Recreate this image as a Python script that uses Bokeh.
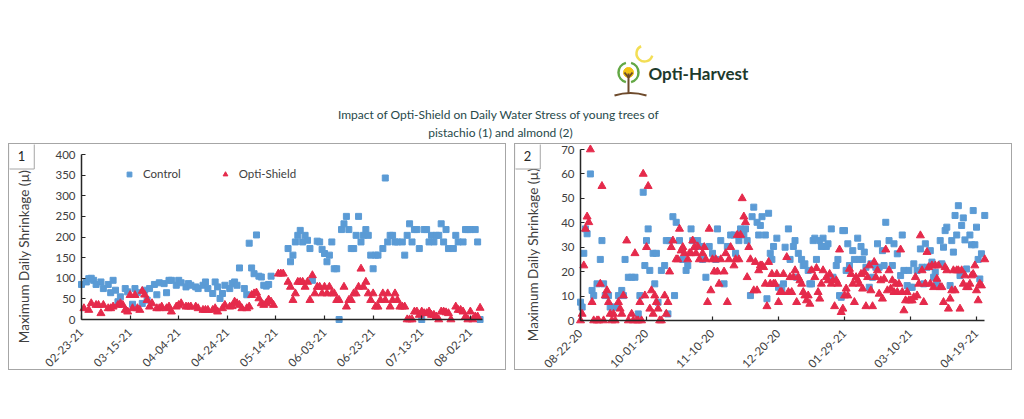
import numpy as np
from bokeh.plotting import figure
from bokeh.layouts import column, row
from bokeh.models import Range1d, FixedTicker, Legend, LegendItem, Label, LinearAxis
from bokeh.core.properties import value
from bokeh.embed import file_html
from bokeh.resources import INLINE

FONT = "Lato"
BLUE = "#5b9bd5"
RED = "#e52a4b"
AXIS = "#262626"
TXT = "#404040"

# ---------------- data: pistachio (1), days since 02-23-21 ----------------
pist_tick_days = [0, 20, 40, 60, 80, 100, 120, 140, 160]
pist_tick_labels = ["02-23-21", "03-15-21", "04-04-21", "04-24-21", "05-14-21",
                    "06-03-21", "06-23-21", "07-13-21", "08-02-21"]
pist_y_ticks = [0, 50, 100, 150, 200, 250, 300, 350, 400]

pist_ctrl_day = [0, 2, 3, 4, 5, 6, 8, 9, 11, 12, 13, 14, 15, 16, 18, 19, 21, 22, 23, 25,
                 26, 27, 28, 30, 31, 32, 34, 35, 36, 37, 39, 40, 41, 43, 44, 45, 47, 48, 50, 51,
                 52, 54, 55, 56, 57, 58, 59, 61, 62, 63, 64, 65, 67, 68, 69, 70, 71, 72, 73, 74,
                 75, 76, 77, 78, 85, 86, 87, 88, 89, 90, 91, 92, 93, 94, 95, 97, 98, 99, 100, 101,
                 102, 103, 104, 105, 106, 107, 108, 109, 110, 111, 112, 113, 114, 115, 116, 117, 118, 119, 120, 121,
                 122, 124, 125, 126, 127, 128, 129, 130, 132, 133, 134, 135, 136, 137, 138, 139, 140, 141, 142, 143,
                 144, 145, 146, 147, 148, 149, 150, 151, 153, 154, 155, 157, 158, 159, 160, 162, 163, 164]
pist_ctrl_val = [85, 91, 99, 100, 95, 85, 91, 75, 85, 65, 95, 71, 43, 55, 75, 67, 37, 75, 65, 39,
                 71, 47, 75, 85, 60, 89, 87, 65, 95, 95, 83, 95, 89, 79, 87, 83, 79, 75, 83, 91,
                 75, 63, 91, 79, 51, 63, 83, 75, 87, 91, 83, 125, 75, 60, 185, 125, 111, 205, 105, 103,
                 83, 81, 85, 105, 172, 140, 156, 188, 204, 216, 188, 204, 192, 172, 95, 190, 188, 170, 160, 140,
                 156, 188, 123, 123, 0, 218, 232, 250, 218, 172, 172, 204, 250, 188, 204, 218, 204, 156, 123, 156,
                 156, 172, 343, 188, 204, 204, 188, 188, 188, 156, 204, 232, 188, 218, 218, 172, 0, 218, 218, 188,
                 204, 188, 204, 204, 232, 188, 218, 172, 172, 204, 188, 188, 218, 218, 218, 218, 188, 0]

pist_shield_day = [1, 3, 4, 6, 7, 8, 9, 11, 12, 13, 15, 16, 17, 18, 19, 20, 21, 22, 23, 24,
                   25, 26, 27, 28, 29, 31, 32, 33, 35, 36, 37, 39, 40, 41, 43, 44, 45, 47, 48, 50,
                   51, 52, 54, 55, 56, 58, 59, 61, 62, 63, 64, 65, 66, 68, 69, 70, 71, 72, 73, 74,
                   75, 76, 77, 78, 79, 81, 82, 83, 85, 86, 87, 88, 89, 90, 91, 92, 93, 94, 95, 96,
                   97, 98, 99, 100, 101, 102, 103, 104, 105, 106, 108, 109, 110, 111, 112, 113, 114, 115, 116, 117,
                   118, 119, 120, 121, 122, 123, 124, 125, 126, 127, 128, 129, 130, 131, 132, 133, 134, 135, 136, 137,
                   138, 139, 140, 141, 142, 143, 144, 145, 146, 147, 148, 149, 150, 151, 152, 154, 155, 156, 157, 158,
                   159, 160, 161, 162, 163, 164]
pist_shield_val = [27, 23, 39, 35, 35, 15, 35, 27, 27, 31, 35, 39, 35, 23, 19, 59, 27, 59, 27, 23,
                   69, 60, 47, 31, 39, 27, 27, 31, 27, 31, 19, 31, 35, 39, 31, 31, 31, 31, 27, 23,
                   23, 23, 23, 27, 19, 27, 35, 31, 32, 43, 39, 35, 27, 27, 31, 59, 63, 65, 51, 39,
                   35, 39, 48, 43, 35, 111, 111, 111, 91, 79, 47, 63, 91, 91, 91, 79, 91, 47, 107, 63,
                   79, 79, 63, 79, 63, 79, 63, 63, 47, 47, 79, 31, 47, 47, 63, 63, 79, 123, 79, 91,
                   63, 47, 63, 31, 31, 47, 63, 47, 63, 31, 47, 63, 47, 31, 31, 31, 0, 0, 0, 19,
                   19, 11, 19, 15, 15, 19, 11, 11, 7, 0, 19, 19, 17, 15, 0, 31, 23, 23, 19, 7,
                   0, 19, 0, 7, 7, 28]

# ---------------- data: almond (2), days since 08-22-20 ----------------
alm_tick_days = [0, 40, 80, 120, 160, 200, 240]
alm_tick_labels = ["08-22-20", "10-01-20", "11-10-20", "12-20-20", "01-29-21", "03-10-21", "04-19-21"]
alm_y_ticks = [0, 10, 20, 30, 40, 50, 60, 70]

alm_ctrl_day = [0, 1, 2, 3, 4, 6, 7, 8, 10, 12, 13, 14, 15, 17, 18, 20, 22, 23, 25, 26,
                27, 29, 31, 33, 35, 36, 38, 39, 40, 41, 42, 44, 45, 46, 47, 49, 51, 52, 53, 54,
                56, 57, 58, 60, 62, 64, 65, 67, 68, 71, 73, 74, 76, 78, 80, 82, 83, 85, 87, 89,
                91, 93, 94, 96, 97, 99, 100, 101, 103, 104, 105, 107, 108, 109, 110, 112, 113, 114, 115, 116,
                117, 119, 120, 122, 123, 124, 126, 127, 129, 130, 131, 132, 134, 135, 136, 138, 139, 140, 141, 142,
                143, 145, 146, 147, 149, 150, 152, 153, 155, 156, 157, 158, 159, 160, 161, 162, 163, 165, 166, 168,
                169, 170, 171, 172, 173, 175, 176, 177, 179, 180, 181, 183, 184, 185, 187, 189, 190, 192, 194, 195,
                196, 198, 199, 200, 201, 202, 204, 206, 207, 208, 209, 210, 212, 213, 214, 215, 216, 218, 219, 220,
                221, 222, 224, 225, 226, 227, 228, 229, 230, 231, 232, 233, 234, 236, 237, 238, 239, 240, 241, 242,
                243, 245]
alm_ctrl_val = [7.5, 5.5, 27.5, 37.5, 35.5, 60, 12.3, 10.2, 15, 25, 32.7, 15, 10.2, 10.2, 5.5, 5.5, 5.5, 10.2, 12.3, 10.2,
                25, 17.7, 17.7, 17.7, 2.7, 10.2, 52.5, 22.5, 32.7, 37.5, 20.5, 27.5, 15, 27.5, 7.5, 20.5, 22.5, 32.7, 2.7, 32.7,
                42.5, 10.2, 40.2, 32.7, 25, 20.5, 22.5, 37.5, 32.7, 32.7, 30.3, 25, 17.7, 30.3, 27.5, 25, 37.5, 32.7, 15, 30.3,
                35, 35, 27.5, 32.7, 37.5, 35, 37.5, 32.7, 10.2, 42.5, 46.4, 40.2, 35, 38.9, 42.5, 35, 8.9, 43.9, 27.5, 25,
                30.3, 33.7, 13.6, 12.3, 15, 30, 37.5, 25, 30.3, 32.7, 17.7, 27.5, 25, 22.5, 23.2, 20.5, 15, 15, 32.7, 33.7,
                25, 32.7, 30.3, 33.7, 30.3, 31.4, 37.5, 17.7, 22.5, 25, 10.2, 9.5, 36.8, 36.8, 20.5, 31.4, 22.5, 28.6, 25, 33.7,
                25, 30.3, 25, 28, 21.8, 13.6, 23.2, 17.7, 21.8, 31.4, 21.8, 28.6, 22.5, 40.2, 32.7, 22.5, 31.4, 27.3, 18.4, 35,
                20.5, 14.3, 20.5, 13.6, 13.6, 23.2, 20.5, 29.3, 21.8, 15, 31.4, 21.8, 28.6, 23.9, 17.7, 19.8, 15, 32.7, 23.2, 30,
                36.8, 38.2, 14.3, 32.7, 28, 43, 35, 47, 18.4, 38.9, 42, 33, 21.1, 35, 31, 45, 31, 38.2, 25, 17,
                27.3, 43]

alm_shield_day = [0, 1, 2, 3, 4, 5, 6, 7, 8, 10, 11, 12, 13, 14, 15, 16, 17, 18, 19, 20,
                  21, 23, 24, 25, 26, 28, 29, 31, 32, 33, 34, 35, 36, 37, 38, 39, 40, 41, 42, 43,
                  44, 45, 46, 47, 48, 49, 51, 52, 53, 54, 55, 56, 58, 59, 60, 61, 62, 63, 65, 66,
                  67, 68, 69, 70, 71, 72, 74, 75, 76, 77, 78, 79, 80, 81, 82, 83, 84, 85, 87, 88,
                  89, 90, 91, 93, 94, 95, 96, 97, 98, 99, 100, 101, 102, 103, 105, 106, 107, 108, 109, 110,
                  111, 112, 113, 114, 115, 116, 117, 118, 119, 120, 121, 122, 123, 125, 126, 127, 128, 129, 130, 131,
                  132, 133, 134, 135, 136, 137, 138, 139, 140, 142, 143, 144, 145, 146, 147, 149, 150, 151, 152, 153,
                  154, 155, 156, 157, 158, 159, 160, 161, 162, 163, 164, 165, 166, 167, 168, 169, 170, 171, 172, 173,
                  174, 175, 176, 177, 178, 179, 180, 181, 182, 183, 184, 185, 186, 187, 188, 189, 190, 191, 192, 193,
                  194, 195, 196, 197, 198, 199, 200, 201, 202, 203, 204, 205, 206, 207, 208, 209, 210, 211, 212, 213,
                  214, 215, 216, 217, 218, 219, 220, 221, 222, 223, 224, 225, 226, 227, 228, 229, 230, 231, 232, 233,
                  234, 235, 236, 237, 238, 239, 240, 241, 242, 243, 245]
alm_shield_val = [0, 2.7, 22.5, 37.5, 42.5, 40.2, 70, 7.5, 0, 0, 0, 15, 55, 0, 10.2, 12.3, 7.5, 2.7, 0, 2.7,
                  0, 7.5, 4.8, 2.7, 10.2, 32.7, 0, 2.7, 0, 27.5, 0, 0, 7.5, 0, 60, 10.2, 30, 55, 4.8, 12.3,
                  2.7, 10.2, 7.5, 4.8, 0, 0, 10.2, 2.7, 7.5, 20, 30, 32.7, 25, 25, 37.5, 28.6, 30, 27.5, 25, 27.5,
                  27.5, 32.7, 30, 27.5, 30.3, 25, 27.5, 30, 25, 7.5, 37.5, 12.3, 25, 20, 25, 20, 15, 25, 20, 27.5,
                  7.5, 25, 30, 22.5, 25, 35, 25, 35, 50, 42.5, 40.2, 17.7, 30, 25, 12.3, 23.9, 12.3, 20.5, 22.5, 22.5,
                  21.8, 15, 5.8, 23.9, 15, 19, 15, 15, 19, 7.5, 11.6, 11.6, 19, 25.9, 11.6, 17.7, 11.6, 17.7, 20.5, 7.5,
                  17.7, 16.4, 15, 11.6, 10.2, 8.2, 10.2, 6.8, 20.5, 17.7, 21.4, 11.6, 8.9, 15, 20.5, 17.7, 16.4, 19, 15, 16.4,
                  5.8, 16.4, 15, 29, 3.4, 4.8, 10.2, 13, 10.2, 21.1, 19, 15, 7.5, 17.7, 16.4, 15, 19, 13, 19.8, 5.8,
                  17.7, 22.5, 12.3, 5.8, 23.9, 17.7, 20.5, 10.9, 16.4, 8.9, 17, 29, 12.3, 20.5, 13, 16.4, 11.6, 15, 11.6, 15,
                  29, 11.6, 4.1, 8.2, 11.6, 8.2, 8.2, 8.2, 9.5, 17.7, 10.2, 15, 34.8, 20.5, 7.5, 15, 28, 21.8, 15, 22.5,
                  13.6, 22.5, 17, 22.5, 13.6, 13.6, 7.5, 21.8, 20.5, 4.8, 8.9, 12.3, 20.5, 12.3, 20.5, 20.5, 4.8, 20.5, 15, 18.4,
                  13.6, 13.6, 15, 18.4, 19, 22.5, 12.3, 8.2, 15, 14.3, 25]

Y_LABEL = "Maximum Daily Shrinkage (µ)"
SERIES = ["Control", "Opti-Shield"]

# ---------------- layout geometry (pixels inside each bordered panel) ----------------
PW, PH = 498, 227


def pixel_ranges(px_left, px_right, px_top, px_bottom, x_lo, x_hi, y_lo, y_hi):
    """Ranges so that the data interval [x_lo,x_hi]x[y_lo,y_hi] lands on the given canvas pixels."""
    sx = (px_right - px_left) / (x_hi - x_lo)
    sy = (px_bottom - px_top) / (y_hi - y_lo)
    xr = Range1d(x_lo - px_left / sx, x_hi + (PW - px_right) / sx)
    yr = Range1d(y_lo - (PH - px_bottom) / sy, y_hi + px_top / sy)
    return xr, yr


def make_panel(xr, yr, x_ticks, x_labels, x_bound, y_ticks, y_bound, ylabel_pos, number):
    p = figure(width=PW, height=PH, x_range=xr, y_range=yr,
               output_backend="svg", toolbar_location=None,
               x_axis_location=None, y_axis_location=None, min_border=0,
               styles={"border": "1px solid #a6a6a6"})
    p.grid.visible = False
    p.outline_line_color = None
    xa = LinearAxis(ticker=FixedTicker(ticks=x_ticks), fixed_location=0, bounds=x_bound)
    ya = LinearAxis(ticker=FixedTicker(ticks=y_ticks), fixed_location=0, bounds=y_bound)
    for ax in (xa, ya):
        ax.axis_line_color = AXIS
        ax.axis_line_width = 1.5
        ax.major_tick_line_color = AXIS
        ax.major_tick_line_width = 1.2
        ax.major_tick_in = 4
        ax.major_tick_out = 0
        ax.minor_tick_line_color = None
        ax.major_label_text_font = FONT
        ax.major_label_text_color = TXT
        ax.major_label_text_font_size = "11.5px"
    xa.major_label_overrides = {d: s for d, s in zip(x_ticks, x_labels)}
    xa.major_label_orientation = np.pi / 4
    xa.major_label_standoff = 11
    ya.major_label_standoff = 6
    p.add_layout(xa, "below")
    p.add_layout(ya, "left")
    # y-axis title (rotated)
    p.add_layout(Label(x=ylabel_pos[0], y=ylabel_pos[1], x_units="screen", y_units="screen",
                       text=Y_LABEL, angle=np.pi / 2, text_font=FONT, text_font_size="13.5px",
                       text_color=TXT, text_align="center", text_baseline="middle"))
    # panel number box
    p.add_layout(Label(x=12, y=PH - 11.5, x_units="screen", y_units="screen", text=number,
                       text_font=FONT, text_font_size="13px", text_color="#262626",
                       text_align="center", text_baseline="middle",
                       border_line_color="#a6a6a6", border_line_width=1,
                       background_fill_color="white", padding=(9, 8)))
    return p


# ---------------- panel 1 ----------------
xr1, yr1 = pixel_ranges(72, 473, 10, 175, 0, 165, 0, 400)
p1 = make_panel(xr1, yr1, pist_tick_days, pist_tick_labels, (0, 165),
                pist_y_ticks, (0, 400), (14, 115), "1")
r1c = p1.scatter(pist_ctrl_day, pist_ctrl_val, marker="square", size=6,
                 fill_color=BLUE, line_color=BLUE)
r1s = p1.scatter(pist_shield_day, pist_shield_val, marker="triangle", size=8,
                 fill_color=RED, line_color=RED)
legend = Legend(items=[LegendItem(label=SERIES[0], renderers=[r1c]),
                       LegendItem(label=SERIES[1], renderers=[r1s])],
                orientation="horizontal", location=(114, 191),
                border_line_color=None, background_fill_alpha=0,
                padding=0, margin=0, spacing=38, glyph_width=12, glyph_height=12,
                label_standoff=8, label_text_font=FONT, label_text_font_size="11.5px",
                label_text_color=TXT)
p1.add_layout(legend)

# ---------------- panel 2 ----------------
xr2, yr2 = pixel_ranges(65, 461, 5, 176, 0, 240, 0, 70)
p2 = make_panel(xr2, yr2, alm_tick_days, alm_tick_labels, (0, 245),
                alm_y_ticks, (0, 70), (17, 117), "2")
p2.scatter(alm_ctrl_day, alm_ctrl_val, marker="square", size=6,
           fill_color=BLUE, line_color=BLUE)
p2.scatter(alm_shield_day, alm_shield_val, marker="triangle", size=8,
           fill_color=RED, line_color=RED)

# ---------------- header: logo + title ----------------
h = figure(width=1008, height=135, x_range=Range1d(0, 1008), y_range=Range1d(0, 135),
           output_backend="svg", toolbar_location=None, min_border=0,
           x_axis_location=None, y_axis_location=None)
h.outline_line_color = None
h.grid.visible = False
# logo mark
h.arc(x=[636], y=[90], radius=8, start_angle=np.radians(115), end_angle=np.radians(345),
      direction="anticlock", line_color="#f3de55", line_width=2.5)
h.arc(x=[620, 620], y=[71, 71], radius=10,
      start_angle=[np.radians(105), np.radians(-75)],
      end_angle=[np.radians(255), np.radians(75)],
      direction="anticlock", line_color="#63a845", line_width=2.5)
h.scatter(x=[620], y=[71], marker="circle", size=10, fill_color="#f2c215", line_color="#f2c215")
h.segment(x0=[620, 620, 620], y0=[50, 66, 66], x1=[620, 616, 624], y1=[70, 71, 71],
          line_color="#6e4b2c", line_width=2)
h.quadratic(x0=[606], y0=[48], x1=[638], y1=[48], cx=[622], cy=[53],
            line_color="#6e4b2c", line_width=2)
h.text(x=[640], y=[70], text=["Opti-Harvest"], text_font=value(FONT), text_font_style="bold",
       text_font_size="17px", text_color="#1d3a2c", text_baseline="middle", text_align="left")
# title
h.text(x=[492, 492], y=[29, 11.5],
       text=["Impact of Opti-Shield on Daily Water Stress of young trees  of",
             "pistachio (1) and almond (2)"],
       text_font=value(FONT), text_font_size="12px", text_color="#27494a",
       text_baseline="middle", text_align="center")

layout = column(h, row(p1, p2, spacing=8), spacing=0, margin=(8, 8, 8, 8))

open("out.html", "w").write(file_html(layout, INLINE))
